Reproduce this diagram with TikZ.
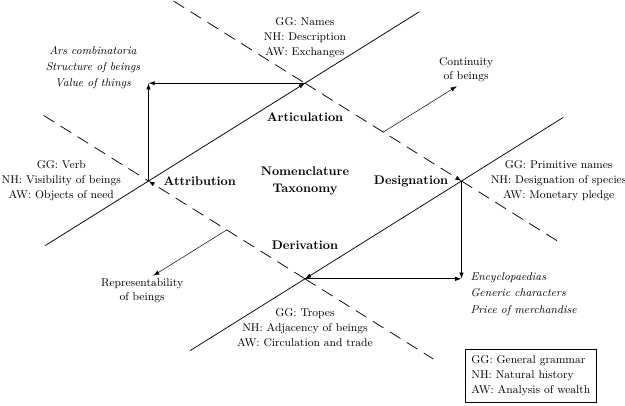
\documentclass[tikz,border=0pt]{standalone}
\usepackage{xcolor}
\usepackage{tikz}
\usetikzlibrary{arrows.meta,positioning,calc}
\tikzset{
  tag/.style={
    font=\bfseries
  },
  notes/.style={
    align=center,
    font=\small
  },
  works/.style={
    align=center,
    font=\small\itshape
  },
  legendbox/.style={
    rectangle,
    draw=black,
    semithick,
    align=left,
    inner sep=5pt,
    font=\small
  },
  solidline/.style={semithick, draw=black},
  dashline/.style={semithick, draw=black, dash pattern=on 10pt off 6pt},
  arrow/.style={-{Latex[length=5pt,width=3.5pt]}, semithick},
  thinarrow/.style={-{Latex[length=5pt,width=3.5pt]}, thin}
}

\begin{document}
\begin{tikzpicture}

\useasboundingbox (-8.575,-6.298) rectangle (8.997,5.089);

\coordinate (attr) at (-4.4,0);
\coordinate (artic) at (0,2.75);
\coordinate (desig) at (4.4,0);
\coordinate (deriv) at (0,-2.75);
\coordinate (topcorner) at (attr |- artic);
\coordinate (botcorner) at (desig |- deriv);
\coordinate (midBC) at ($(artic)!0.5!(desig)$);
\coordinate (midAD) at ($(attr)!0.5!(deriv)$);

\draw[solidline] ($(attr)!-0.66!(artic)$) -- (attr);
\draw[solidline, arrow] (attr) -- (artic);
\draw[solidline] (artic) -- ($(attr)!1.73!(artic)$);

\draw[solidline] ($(deriv)!-0.735!(desig)$) -- (deriv);
\draw[solidline, arrow] (desig) -- (deriv);
\draw[solidline] (desig) -- ($(deriv)!1.65!(desig)$);

\draw[dashline] ($(artic)!-0.84!(desig)$) -- (artic);
\draw[dashline, arrow] (artic) -- (desig);
\draw[dashline] (desig) -- ($(artic)!1.65!(desig)$);

\draw[dashline] ($(attr)!-0.67!(deriv)$) -- (attr);
\draw[dashline, arrow] (deriv) -- (attr);
\draw[dashline] (deriv) -- ($(attr)!1.82!(deriv)$);

\draw[arrow] (attr) -- (topcorner);
\draw[arrow] (artic) -- (topcorner);
\draw[arrow] (desig) -- (botcorner);
\draw[arrow] (deriv) -- (botcorner);

\node[tag] (artlbl) at (0,1.8) {Articulation};
\node[tag] (derlbl) at (0,-1.8) {Derivation};
\node[tag, right=0.3cm of attr] (attrlbl) {Attribution};
\node[tag, left=0.25cm of desig] (desiglbl) {Designation};
\node[tag, align=center] (centre) at (0,0) {Nomenclature\\[2pt]Taxonomy};

\node[notes, above=0.6cm of artic] (artnotes) {GG: Names\\[1pt]NH: Description\\[1pt]AW: Exchanges};
\node[notes, below=0.7cm of deriv] (dernotes) {GG: Tropes\\[1pt]NH: Adjacency of beings\\[1pt]AW: Circulation and trade};
\node[notes, left=0.65cm of attr] (attrnotes) {GG: Verb\\[1pt]NH: Visibility of beings\\[1pt]AW: Objects of need};
\node[notes, right=0.7cm of desig] (designotes) {GG: Primitive names\\[1pt]NH: Designation of species\\[1pt]AW: Monetary pledge};

\node[works] (topworks) at (-5.96,3.19) {Ars combinatoria\\[2pt]Structure of beings\\[2pt]Value of things};
\node[works, align=left, anchor=west] (botworks) at (4.53,-3.18) {Encyclopaedias\\[2pt]Generic characters\\[2pt]Price of merchandise};

\node[notes] (cont) at (4.53,3.13) {Continuity\\of beings};
\coordinate (contend) at ($(midBC)+(2.07,1.29)$);
\draw[thinarrow] (midBC) -- (contend);

\node[notes] (repr) at (-4.58,-3.09) {Representability\\of beings};
\coordinate (reprend) at ($(midAD)-(2.07,1.29)$);
\draw[thinarrow] (midAD) -- (reprend);

\node[legendbox] (legend) at (6.35,-5.47) {GG: General grammar\\[1pt]NH: Natural history\\[1pt]AW: Analysis of wealth};

\end{tikzpicture}
\end{document}
